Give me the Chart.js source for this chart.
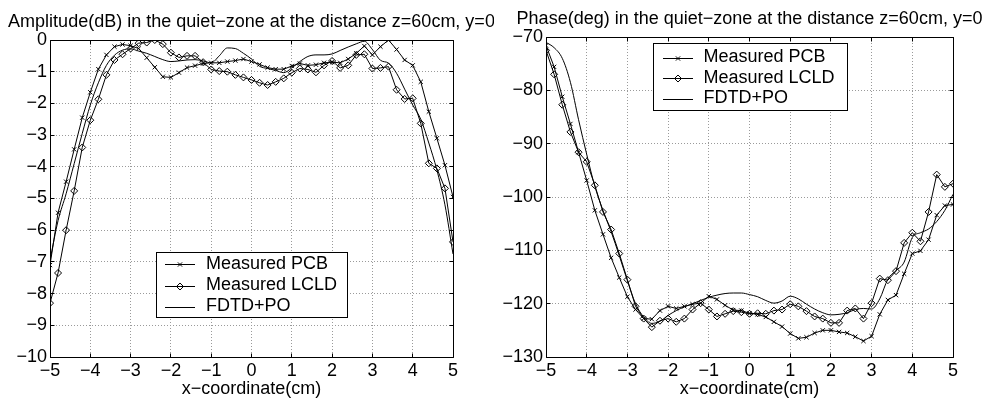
<!DOCTYPE html>
<html><head><meta charset="utf-8">
<script src="https://cdn.jsdelivr.net/npm/chart.js@4/dist/chart.umd.min.js"></script>
<style>
html,body{margin:0;padding:0;background:#fff;}
body{width:989px;height:398px;position:relative;overflow:hidden;}
.box{position:absolute;top:0;height:398px;}
#b1{left:0;width:494px;}
#b2{left:494px;width:495px;}
canvas{display:block;}
</style></head><body>
<div class="box" id="b1"><canvas id="c1" width="494" height="398"></canvas></div>
<div class="box" id="b2"><canvas id="c2" width="495" height="398"></canvas></div>
<script>
// ---------- data ----------
const xCoords = [-5,-4.8,-4.6,-4.4,-4.2,-4,-3.8,-3.6,-3.4,-3.2,-3,-2.8,-2.6,-2.4,-2.2,-2,-1.8,-1.6,-1.4,-1.2,-1,-0.8,-0.6,-0.4,-0.2,0,0.2,0.4,0.6,0.8,1,1.2,1.4,1.6,1.8,2,2.2,2.4,2.6,2.8,3,3.2,3.4,3.6,3.8,4,4.2,4.4,4.6,4.8,5];

const ampPCB = [-7.1,-5.45,-4.47,-3.45,-2.45,-1.65,-0.92,-0.47,-0.21,-0.14,-0.18,-0.27,-0.56,-0.86,-1.16,-1.18,-1.03,-0.87,-0.81,-0.74,-0.72,-0.72,-0.68,-0.65,-0.6,-0.68,-0.77,-0.87,-0.92,-0.92,-0.82,-0.74,-0.8,-0.78,-0.72,-0.7,-0.72,-0.6,-0.42,-0.19,-0.47,-0.21,0,-0.3,-0.63,-0.8,-1.32,-2.26,-3.1,-3.95,-4.95];
const ampLCLD = [-8.3,-7.35,-6.0,-4.76,-3.39,-2.53,-1.87,-1.1,-0.63,-0.45,-0.27,-0.1,-0.08,0,-0.13,-0.4,-0.55,-0.5,-0.5,-0.7,-0.93,-0.98,-1.0,-1.1,-1.18,-1.26,-1.35,-1.42,-1.32,-1.21,-1.03,-0.9,-0.93,-1.02,-0.8,-0.66,-0.88,-0.8,-0.47,-0.45,-0.9,-0.88,-0.84,-1.57,-1.86,-1.84,-2.63,-3.89,-4.05,-4.68,-6.37];
const ampFDTD = [-6.95,-5.7,-4.85,-3.9,-2.95,-2.05,-1.35,-0.8,-0.48,-0.32,-0.28,-0.35,-0.42,-0.52,-0.62,-0.68,-0.66,-0.63,-0.62,-0.66,-0.72,-0.5,-0.25,-0.27,-0.42,-0.6,-0.83,-0.9,-0.96,-1.03,-0.88,-0.68,-0.52,-0.47,-0.47,-0.44,-0.33,-0.22,-0.12,-0.04,-0.3,-0.64,-0.73,-1.05,-1.55,-2.05,-2.5,-3.25,-4.1,-5.2,-6.75];

const phasePCB = [-71.6,-75.6,-81.2,-86.3,-91.6,-96.9,-102.5,-107.0,-111.4,-115.1,-118.7,-121.1,-122.8,-122.9,-121.3,-120.5,-120.9,-120.5,-120.1,-119.9,-118.6,-119.2,-120.3,-121.2,-121.3,-121.8,-122.0,-122.5,-123.4,-124.3,-125.6,-126.5,-126.3,-125.5,-125.0,-125.0,-125.3,-125.5,-126.2,-127.0,-126.1,-122.0,-119.3,-118.4,-114.4,-110.6,-110.1,-108.0,-103.4,-101.6,-101.4];
const phaseLCLD = [-72.5,-77.0,-82.7,-87.8,-91.6,-93.4,-97.8,-102.8,-106.1,-110.6,-115.5,-120.5,-122.8,-124.4,-123.2,-122.8,-123.4,-122.8,-121.1,-119.9,-121.1,-122.4,-121.9,-121.4,-121.6,-121.9,-121.8,-121.9,-121.3,-121.1,-120.1,-120.5,-121.4,-122.4,-122.8,-123.6,-123.6,-121.3,-120.9,-122.8,-119.9,-115.3,-115.6,-113.9,-108.6,-106.7,-108.3,-102.8,-95.8,-98.1,-97.5];
const phaseFDTD = [-71.0,-72.0,-74.0,-78.5,-85.5,-92.0,-98.0,-102.5,-106.5,-111.0,-115.7,-120.0,-122.5,-123.7,-123.3,-122.2,-121.3,-120.6,-120.0,-119.4,-118.8,-118.4,-118.1,-118.0,-118.0,-118.3,-118.7,-119.4,-119.9,-119.5,-118.6,-119.1,-120.1,-121.0,-121.7,-122.1,-122.0,-121.7,-121.1,-120.9,-121.0,-119.1,-115.4,-113.8,-112.2,-107.6,-106.7,-106.0,-104.6,-102.5,-99.5];

const xTickValues = [-5,-4,-3,-2,-1,0,1,2,3,4,5];
const ampTickValues = [-10,-9,-8,-7,-6,-5,-4,-3,-2,-1,0];
const phaseTickValues = [-130,-120,-110,-100,-90,-80,-70];

const seriesNames = ['Measured PCB','Measured LCLD','FDTD+PO'];
const ampTitle = 'Amplitude(dB) in the quiet\u2212zone at the distance z=60cm, y=0';
const phaseTitle = 'Phase(deg) in the quiet\u2212zone at the distance z=60cm, y=0';
const xAxisTitle = 'x\u2212coordinate(cm)';

// ---------- helpers ----------
const FONT = '"Liberation Sans", Arial, Helvetica, sans-serif';
const fmt = v => (v < 0 ? '\u2212' + Math.abs(v) : String(v));
const align = p => Math.round(p - 0.5) + 0.5;

function drawMarker(ctx, style, x, y, r) {
  ctx.beginPath();
  if (style === 'crossRot') {
    const d = Math.SQRT1_2 * r;
    ctx.moveTo(x - d, y - d); ctx.lineTo(x + d, y + d);
    ctx.moveTo(x - d, y + d); ctx.lineTo(x + d, y - d);
  } else if (style === 'rectRot') {
    ctx.moveTo(x, y - r); ctx.lineTo(x + r, y); ctx.lineTo(x, y + r); ctx.lineTo(x - r, y); ctx.closePath();
  }
  ctx.stroke();
}

const axesFrame = {
  id: 'axesFrame',
  afterDraw(chart) {
    const {ctx, chartArea: a, scales} = chart;
    const L = align(a.left), R = align(a.right), T = align(a.top), B = align(a.bottom);
    ctx.save();
    ctx.strokeStyle = '#000'; ctx.lineWidth = 1; ctx.setLineDash([]);
    ctx.beginPath();
    ctx.rect(L, T, R - L, B - T);
    const tl = 4;
    scales.x.ticks.forEach(t => {
      const p = align(scales.x.getPixelForValue(t.value));
      ctx.moveTo(p, B); ctx.lineTo(p, B - tl);
      ctx.moveTo(p, T); ctx.lineTo(p, T + tl);
    });
    scales.y.ticks.forEach(t => {
      const p = align(scales.y.getPixelForValue(t.value));
      ctx.moveTo(L, p); ctx.lineTo(L + tl, p);
      ctx.moveTo(R, p); ctx.lineTo(R - tl, p);
    });
    ctx.stroke();
    ctx.restore();
  }
};

const panelTitle = {
  id: 'panelTitle',
  afterDraw(chart, args, o) {
    const {ctx, chartArea: a} = chart;
    ctx.save();
    ctx.font = '18px ' + FONT; ctx.fillStyle = '#000';
    ctx.textAlign = 'center'; ctx.textBaseline = 'alphabetic';
    ctx.fillText(o.text, (a.left + a.right) / 2, a.top - o.gap);
    ctx.restore();
  }
};

const boxLegend = {
  id: 'boxLegend',
  afterDraw(chart, args, o) {
    const {ctx, chartArea: a} = chart;
    const x0 = Math.round(a.left + o.dx), y0 = Math.round(a.top + o.dy);
    ctx.save();
    ctx.fillStyle = '#fff'; ctx.fillRect(x0, y0, o.w, o.h);
    ctx.strokeStyle = '#000'; ctx.lineWidth = 1;
    ctx.strokeRect(x0 + 0.5, y0 + 0.5, o.w, o.h);
    ctx.font = '18px ' + FONT; ctx.fillStyle = '#000';
    ctx.textAlign = 'left'; ctx.textBaseline = 'middle';
    chart.data.datasets.forEach((ds, i) => {
      const y = Math.round(y0 + o.rows[i]) + 0.5;
      ctx.beginPath();
      ctx.moveTo(x0 + o.lx0, y); ctx.lineTo(x0 + o.lx1, y); ctx.stroke();
      if (ds.pointRadius > 0) drawMarker(ctx, ds.pointStyle, x0 + (o.lx0 + o.lx1) / 2, y, ds.pointRadius);
      ctx.fillText(ds.label, x0 + o.tx, y0 + o.rows[i]);
    });
    ctx.restore();
  }
};

function makeSets(pcb, lcld, fdtd) {
  const pts = arr => xCoords.map((x, i) => ({x: x, y: arr[i]}));
  const base = {borderColor: '#000', borderWidth: 1, pointBorderColor: '#000', pointBackgroundColor: 'rgba(0,0,0,0)', pointBorderWidth: 1, fill: false};
  return [
    Object.assign({}, base, {label: seriesNames[0], data: pts(pcb), pointStyle: 'crossRot', pointRadius: 3, tension: 0}),
    Object.assign({}, base, {label: seriesNames[1], data: pts(lcld), pointStyle: 'rectRot', pointRadius: 3.5, tension: 0}),
    Object.assign({}, base, {label: seriesNames[2], data: pts(fdtd), pointRadius: 0, cubicInterpolationMode: 'monotone'})
  ];
}

function panel(id, sets, yTicks, o) {
  const tickFont = {family: FONT, size: 18};
  return new Chart(document.getElementById(id), {
    type: 'line',
    data: {datasets: sets},
    options: {
      responsive: false, animation: false, events: [],
      layout: {padding: {top: o.top, right: o.right, left: 0, bottom: 0}},
      plugins: {
        legend: {display: false}, tooltip: {enabled: false}, title: {display: false},
        panelTitle: {text: o.title, gap: 13.5},
        boxLegend: o.legend
      },
      scales: {
        x: {
          type: 'linear', min: xTickValues[0], max: xTickValues[xTickValues.length - 1],
          afterBuildTicks: s => { s.ticks = xTickValues.map(v => ({value: v})); },
          ticks: {padding: 3, color: '#000', font: tickFont, maxRotation: 0, autoSkip: false, callback: v => fmt(v)},
          grid: {color: '#9a9a9a', lineWidth: 1, drawTicks: false},
          border: {display: false, dash: [1, 2]},
          title: {display: true, text: xAxisTitle, color: '#000', font: {family: FONT, size: 18, lineHeight: 1.0}, padding: 0},
          afterFit: s => { s.height = 41; }
        },
        y: {
          type: 'linear', min: yTicks[0], max: yTicks[yTicks.length - 1],
          afterBuildTicks: s => { s.ticks = yTicks.map(v => ({value: v})); },
          ticks: {padding: 3, color: '#000', font: tickFont, autoSkip: false, callback: v => fmt(v)},
          grid: {color: '#9a9a9a', lineWidth: 1, drawTicks: false},
          border: {display: false, dash: [1, 2]},
          afterFit: s => { s.width = o.yw; }
        }
      }
    },
    plugins: [axesFrame, panelTitle, boxLegend]
  });
}

panel('c1', makeSets(ampPCB, ampLCLD, ampFDTD), ampTickValues, {
  top: 40, right: 41, yw: 50, title: ampTitle,
  legend: {dx: 106, dy: 212, w: 191, h: 65, rows: [12, 33.5, 54.5], lx0: 9, lx1: 39, tx: 50}
});
panel('c2', makeSets(phasePCB, phaseLCLD, phaseFDTD), phaseTickValues, {
  top: 37, right: 36, yw: 52, title: phaseTitle,
  legend: {dx: 107, dy: 6, w: 194, h: 67, rows: [14.5, 35, 55.5], lx0: 10, lx1: 40, tx: 50.5}
});
</script>
</body></html>
